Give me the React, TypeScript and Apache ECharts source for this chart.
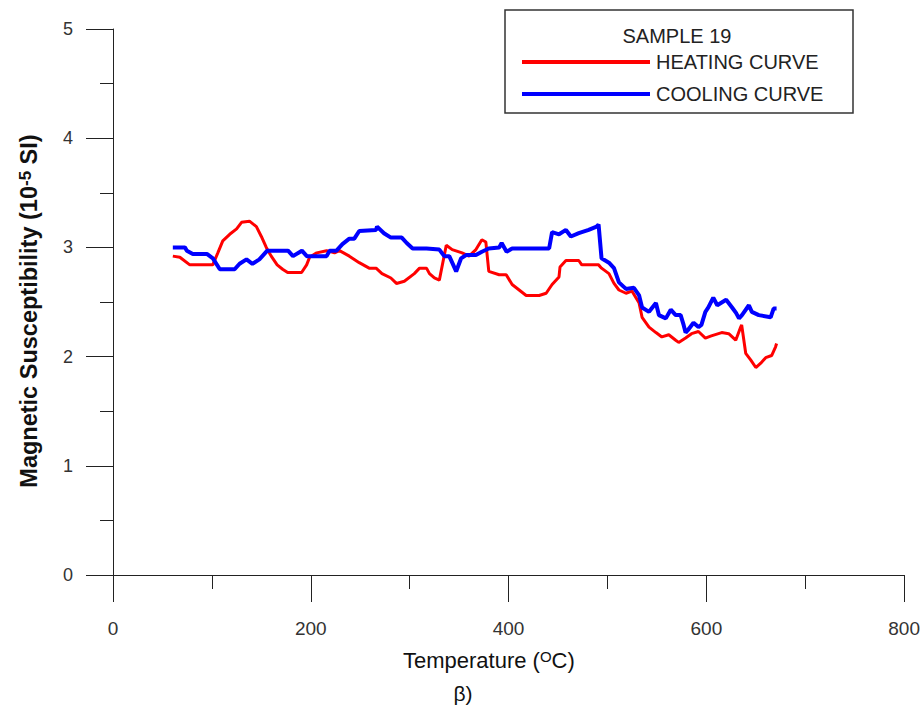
import React, { useEffect, useRef } from "react";
import * as echarts from "echarts";

// Heating curve (red): temperature (°C) and susceptibility (10^-5 SI)
const heatingT = [60.5, 67.6, 77.7, 100.9, 106, 111, 118, 125, 130, 138, 145, 150, 155, 160, 166, 171.5, 176.6, 190.7, 195.8, 198.8, 206, 216, 224, 229, 239, 249, 259, 266, 272, 281, 286.6, 294.6, 304.7, 310, 317, 320, 325, 330, 337, 343, 353, 360, 367, 373, 377, 380, 390.5, 397.6, 403.6, 410.7, 417.8, 430.9, 438, 444, 451, 452, 458, 471, 474, 491, 494, 501.5, 506.6, 511.6, 518.7, 524.7, 532, 535, 542, 549, 555, 562, 569, 572, 579, 585, 592, 599, 605, 615.5, 622.6, 629.7, 634.7, 635.7, 639.8, 644.8, 650, 655, 660, 666, 670, 671];
const heatingV = [2.92, 2.91, 2.84, 2.84, 2.95, 3.06, 3.12, 3.17, 3.23, 3.24, 3.19, 3.10, 3.00, 2.92, 2.84, 2.80, 2.77, 2.77, 2.84, 2.91, 2.95, 2.97, 2.95, 2.97, 2.92, 2.86, 2.81, 2.81, 2.76, 2.72, 2.67, 2.69, 2.76, 2.81, 2.81, 2.76, 2.72, 2.70, 3.02, 2.98, 2.95, 2.92, 2.98, 3.07, 3.05, 2.78, 2.75, 2.75, 2.66, 2.61, 2.56, 2.56, 2.58, 2.66, 2.73, 2.82, 2.88, 2.88, 2.84, 2.84, 2.81, 2.76, 2.67, 2.61, 2.58, 2.60, 2.49, 2.36, 2.27, 2.22, 2.18, 2.20, 2.15, 2.13, 2.17, 2.21, 2.23, 2.17, 2.19, 2.22, 2.21, 2.15, 2.27, 2.29, 2.03, 1.97, 1.90, 1.94, 1.99, 2.01, 2.09, 2.12];

// Cooling curve (blue)
const coolingT = [60.5, 72.7, 74.7, 80.7, 94.9, 101, 108, 123, 128, 135, 141, 148, 156, 177, 182, 191, 196, 216, 219, 226, 232, 239, 244, 249, 266, 267, 274, 281, 292, 297, 303, 317, 330, 335, 340, 343, 347, 352, 357, 367, 373, 380, 390.5, 393, 398, 403.6, 441, 444, 451, 458, 463, 471, 481, 489, 491, 494, 501.5, 506.6, 511.6, 518.7, 526.7, 532, 535, 542, 549, 552, 559, 564, 569, 574, 577, 579, 582, 587, 592, 595, 599, 602, 607, 611, 620, 626, 630, 633, 636, 643, 646, 653, 665, 668, 671];
const coolingV = [3.00, 3.00, 2.97, 2.94, 2.94, 2.90, 2.80, 2.80, 2.85, 2.89, 2.85, 2.89, 2.97, 2.97, 2.92, 2.97, 2.92, 2.92, 2.97, 2.97, 3.03, 3.08, 3.08, 3.15, 3.16, 3.19, 3.13, 3.09, 3.09, 3.04, 2.99, 2.99, 2.98, 2.92, 2.92, 2.86, 2.78, 2.90, 2.93, 2.93, 2.96, 2.99, 3.00, 3.04, 2.96, 2.99, 2.99, 3.14, 3.12, 3.16, 3.10, 3.13, 3.16, 3.19, 3.21, 2.90, 2.86, 2.81, 2.68, 2.62, 2.63, 2.56, 2.45, 2.41, 2.49, 2.38, 2.35, 2.43, 2.38, 2.38, 2.29, 2.22, 2.25, 2.31, 2.27, 2.29, 2.41, 2.45, 2.54, 2.47, 2.52, 2.45, 2.40, 2.35, 2.38, 2.47, 2.41, 2.38, 2.36, 2.44, 2.44];

const seriesNames = ["HEATING CURVE", "COOLING CURVE"];
const legendTitle = "SAMPLE 19";

export default function App() {
  const ref = useRef<HTMLDivElement>(null);
  useEffect(() => {
    if (!ref.current) return;
    const chart = echarts.init(ref.current, undefined, { renderer: "svg" });
    const font = "Arial, 'Liberation Sans', sans-serif";
    const heating = heatingT.map((t, i) => [t, heatingV[i]]);
    const cooling = coolingT.map((t, i) => [t, coolingV[i]]);
    chart.setOption({
      animation: false,
      backgroundColor: "#ffffff",
      grid: { left: 113, right: 17, top: 29, bottom: 134 },
      xAxis: {
        type: "value",
        min: 0,
        max: 800,
        interval: 200,
        axisLine: { show: true, onZero: false, lineStyle: { color: "#222", width: 1 } },
        axisTick: { show: true, inside: false, length: 27, lineStyle: { color: "#222" } },
        minorTick: { show: true, splitNumber: 2, length: 14, lineStyle: { color: "#222" } },
        splitLine: { show: false },
        axisLabel: { margin: 44, fontSize: 19, color: "#333", fontFamily: font },
      },
      yAxis: {
        type: "value",
        min: 0,
        max: 5,
        interval: 1,
        axisLine: { show: true, onZero: false, lineStyle: { color: "#222", width: 1 } },
        axisTick: { show: true, inside: false, length: 27, lineStyle: { color: "#222" } },
        minorTick: { show: true, splitNumber: 2, length: 13, lineStyle: { color: "#222" } },
        splitLine: { show: false },
        axisLabel: { margin: 40, fontSize: 18, color: "#333", fontFamily: font },
      },
      legend: {
        orient: "vertical",
        left: 517,
        top: 47,
        itemWidth: 128,
        itemHeight: 4,
        itemGap: 12,
        icon: "rect",
        data: seriesNames,
        textStyle: { fontSize: 20, color: "#222", fontFamily: font, lineHeight: 20, padding: [0, 0, 0, 1] },
      },
      graphic: [
        {
          type: "rect",
          shape: { x: 505, y: 10, width: 348, height: 103 },
          style: { fill: "none", stroke: "#333", lineWidth: 1.5 },
          z: 10,
        },
        {
          type: "text",
          x: 677,
          y: 36,
          style: { text: legendTitle, fontSize: 20, fill: "#222", fontFamily: font, align: "center", verticalAlign: "middle" },
          z: 10,
        },
        {
          type: "text",
          x: 403,
          y: 660,
          style: {
            text: "{n|Temperature (}{s|O}{n|C)}",
            fontFamily: font,
            align: "left",
            verticalAlign: "middle",
            rich: {
              n: { fontSize: 22, fill: "#111", fontFamily: font, verticalAlign: "bottom" },
              s: { fontSize: 15, fill: "#111", fontFamily: font, verticalAlign: "top" },
            },
          },
        },
        {
          type: "text",
          x: 29,
          y: 311,
          rotation: Math.PI / 2,
          style: {
            text: "{n|Magnetic Susceptibility (10}{s|-5}{n| SI)}",
            fontFamily: font,
            align: "center",
            verticalAlign: "middle",
            rich: {
              n: { fontSize: 23.5, fontWeight: "bold", fill: "#111", fontFamily: font, verticalAlign: "bottom" },
              s: { fontSize: 17, fontWeight: "bold", fill: "#111", fontFamily: font, verticalAlign: "top" },
            },
          },
        },
        {
          type: "text",
          x: 463,
          y: 693,
          style: { text: "β)", fontSize: 21, fill: "#111", fontFamily: font, align: "center", verticalAlign: "middle" },
        },
      ],
      series: [
        {
          name: seriesNames[0],
          type: "line",
          data: heating,
          showSymbol: false,
          lineStyle: { color: "#ff0000", width: 3 },
          itemStyle: { color: "#ff0000" },
          z: 2,
        },
        {
          name: seriesNames[1],
          type: "line",
          data: cooling,
          showSymbol: false,
          lineStyle: { color: "#0000ff", width: 4 },
          itemStyle: { color: "#0000ff" },
          z: 3,
        },
      ],
    });
    return () => chart.dispose();
  }, []);
  return (
    <div
      ref={ref}
      style={{ position: "fixed", left: 0, top: 0, width: 923, height: 709, background: "#fff" }}
    />
  );
}
